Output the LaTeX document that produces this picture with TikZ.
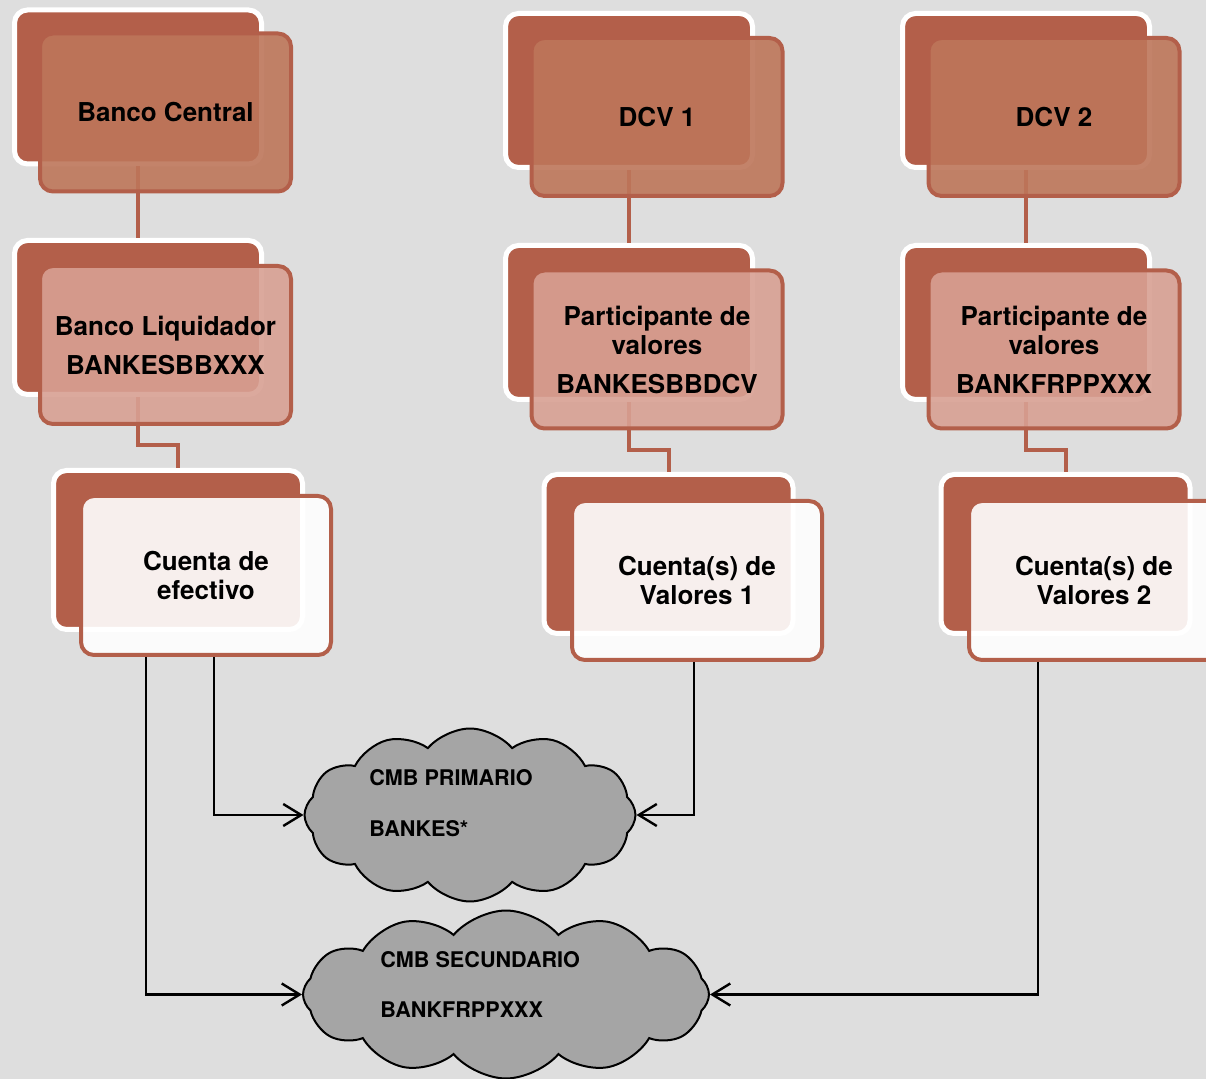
\documentclass[tikz,border=0pt]{standalone}
\usepackage{fontspec}
\setmainfont{TeX Gyre Heros}
\usetikzlibrary{arrows.meta,shapes.symbols}
\definecolor{bgGray}{HTML}{DEDEDE}
\definecolor{brick}{HTML}{B35F4A}
\definecolor{brickLight}{RGB}{189,118,90}
\definecolor{rose}{RGB}{216,160,147}
\definecolor{cloudGray}{HTML}{A5A5A5}
\tikzset{>={Straight Barb[length=9pt,width=11pt]}}
\tikzstyle{shadowbox} = [draw=white, line width=2.5pt, fill=brick, rounded corners=6.5pt, minimum width=123.5pt, minimum height=77pt]
\tikzstyle{front} = [draw=brick, line width=2pt, rounded corners=6.5pt, minimum width=125.5pt, minimum height=79pt, align=center, text opacity=1, font=\bfseries\fontsize{13}{14.5}\selectfont]
\tikzstyle{entity} = [front, fill=brickLight, fill opacity=0.9]
\tikzstyle{member} = [front, fill=rose, fill opacity=0.9]
\tikzstyle{account} = [front, fill=white, fill opacity=0.9, minimum width=125pt, minimum height=79.5pt]
\tikzstyle{link} = [draw=brick, line width=2pt]
\tikzstyle{flow} = [draw=black, line width=1.2pt, ->]
\tikzstyle{cmb} = [cloud, draw=black, line width=1pt, fill=cloudGray, cloud puffs=12, cloud puff arc=100, cloud ignores aspect]
\tikzstyle{cmbtext} = [anchor=base west, inner sep=0pt, font=\bfseries\fontsize{10.8}{12}\selectfont]

\begin{document}
\begin{tikzpicture}[x=0.5pt, y=-0.5pt]

    \fill[bgGray] (0,0) rectangle (1206,1079);
    \useasboundingbox (0,0) rectangle (1206,1079);

    % back layer
    \node[shadowbox] (bcB) at (138,87) {};
    \node[shadowbox] (dcv1B) at (629,90.5) {};
    \node[shadowbox] (dcv2B) at (1026,90.5) {};
    \node[shadowbox] (liqB) at (138,317.5) {};
    \node[shadowbox] (part1B) at (629,322.5) {};
    \node[shadowbox] (part2B) at (1026,322.5) {};
    \node[shadowbox, minimum width=124.5pt, minimum height=79.5pt] (efB) at (178,550) {};
    \node[shadowbox, minimum width=124.5pt, minimum height=79.5pt] (val1B) at (668.5,554) {};
    \node[shadowbox, minimum width=124.5pt, minimum height=79.5pt] (val2B) at (1065.5,554) {};

    % links between the levels
    \draw[link] (bcB.south) -- (liqB.north);
    \draw[link] (dcv1B.south) -- (part1B.north);
    \draw[link] (dcv2B.south) -- (part2B.north);
    \draw[link] (liqB.south) -- ++(0,48) -| (efB.north);
    \draw[link] (part1B.south) -- ++(0,48) -| (val1B.north);
    \draw[link] (part2B.south) -- ++(0,48) -| (val2B.north);

    % front layer
    \node[entity] (bc) at ([shift={(27.5,25.5)}]bcB) {Banco Central};
    \node[entity] (dcv1) at ([shift={(28,26.5)}]dcv1B) {DCV 1};
    \node[entity] (dcv2) at ([shift={(28,26.5)}]dcv2B) {DCV 2};
    \node[member] (liq) at ([shift={(27.5,27.5)}]liqB) {Banco Liquidador\\[5pt]BANKESBBXXX};
    \node[member] (part1) at ([shift={(28,27)}]part1B) {Participante de\\valores\\[5pt]BANKESBBDCV};
    \node[member] (part2) at ([shift={(28,27)}]part2B) {Participante de\\valores\\[5pt]BANKFRPPXXX};
    \node[account] (ef) at ([shift={(28,25.5)}]efB) {Cuenta de\\efectivo};
    \node[account] (val1) at ([shift={(28.5,26.5)}]val1B) {Cuenta(s) de\\Valores 1};
    \node[account] (val2) at ([shift={(28.5,26.5)}]val2B) {Cuenta(s) de\\Valores 2};

    % clouds
    \node[cmb, minimum width=165.5pt, minimum height=86.5pt] (cmb1) at (470,815) {};
    \node[cmb, minimum width=203pt, minimum height=84pt] (cmb2) at (506,994.5) {};
    \node[cmbtext] (cmb1a) at (369,786) {CMB PRIMARIO};
    \node[cmbtext] (cmb1b) at (369,837) {BANKES*};
    \node[cmbtext] (cmb2a) at (380,967) {CMB SECUNDARIO};
    \node[cmbtext] (cmb2b) at (380,1017) {BANKFRPPXXX};

    \draw[flow] ([xshift=4pt]ef.south) |- (cmb1.west);
    \draw[flow] ([xshift=-30pt]ef.south) |- (cmb2.west);
    \draw[flow] ([xshift=-1.5pt]val1.south) |- (cmb1.east);
    \draw[flow] ([xshift=-28pt]val2.south) |- (cmb2.east);

\end{tikzpicture}
\end{document}
